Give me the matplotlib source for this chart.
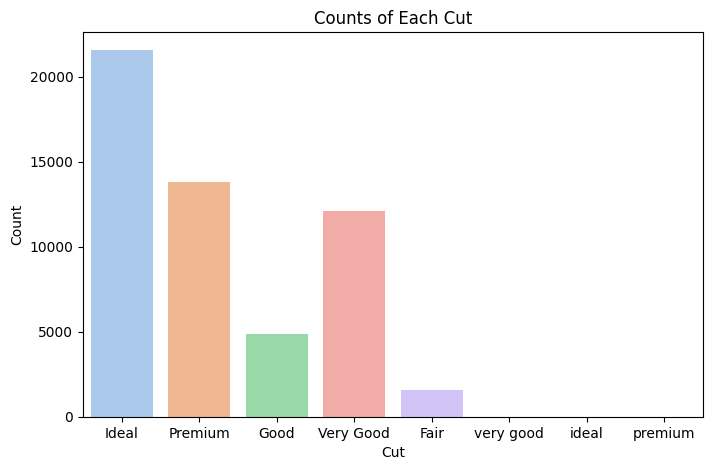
import matplotlib
matplotlib.use("Agg")
import matplotlib.pyplot as plt
import seaborn as sns

cuts = ["Ideal", "Premium", "Good", "Very Good", "Fair", "very good", "ideal", "premium"]
counts = [21551, 13791, 4906, 12082, 1610, 1, 1, 1]

# pastel palette, desaturated like seaborn's countplot default
colors = [sns.desaturate(c, 0.75) for c in sns.color_palette("pastel", len(cuts))]

fig = plt.figure(figsize=(7.13, 4.70), dpi=100)
ax = fig.add_axes([0.1164, 0.1128, 0.8696, 0.8192])
ax.bar(cuts, counts, color=colors, width=0.8)
ax.set_title("Counts of Each Cut")
ax.set_xlabel("Cut")
ax.set_ylabel("Count")
ax.set_xlim(-0.5, len(cuts) - 0.5)

fig.savefig("out.png", dpi=100)
